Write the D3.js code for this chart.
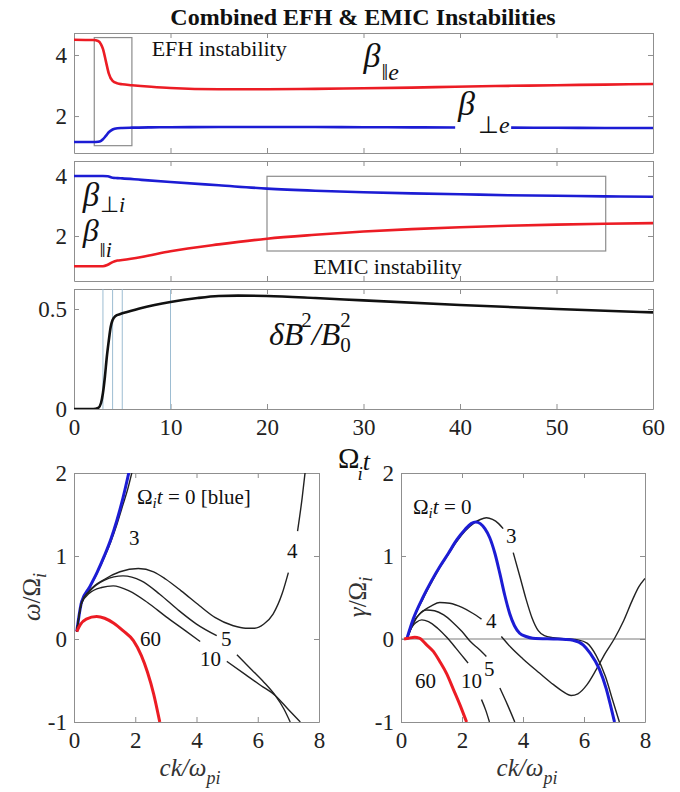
<!DOCTYPE html>
<html>
<head>
<meta charset="utf-8">
<script src="https://cdn.jsdelivr.net/npm/d3@7"></script>
<style>
  body { margin: 0; background: #fff; }
  svg { font-family: "Liberation Serif", "Times New Roman", serif; }
</style>
</head>
<body>
<div id="chart"></div>
<script>
// ---------- top panels: time series (x = Omega_i t) ----------
const tE = [0, 2, 2.5, 2.8, 3, 3.3, 3.6, 4, 4.5, 5, 6, 8, 10, 15, 20, 25, 30, 35, 39.5, 45.3, 50, 55, 60];
const betaParE = [4.5, 4.49, 4.46, 4.35, 4.2, 3.8, 3.4, 3.15, 3.07, 3.04, 3.01, 2.96, 2.92, 2.88, 2.88, 2.89, 2.91, 2.93, 2.96, 2.99, 3.01, 3.03, 3.05];
const betaPerpE = [1.15, 1.15, 1.16, 1.19, 1.24, 1.35, 1.47, 1.56, 1.6, 1.61, 1.62, 1.63, 1.635, 1.64, 1.64, 1.64, 1.635, 1.63, 1.625, 1.62, 1.615, 1.61, 1.61];

const tI = [0, 3, 3.5, 4, 4.5, 5, 7, 10, 15, 20, 25, 30, 35, 40, 45, 50, 55, 60];
const betaPerpI = [4.0, 4.0, 3.99, 3.94, 3.93, 3.92, 3.87, 3.8, 3.69, 3.58, 3.51, 3.46, 3.42, 3.39, 3.36, 3.34, 3.32, 3.31];
const betaParI = [0.99, 0.99, 1.04, 1.13, 1.18, 1.2, 1.3, 1.49, 1.72, 1.91, 2.04, 2.15, 2.23, 2.29, 2.34, 2.38, 2.41, 2.43];

const tB = [0, 2, 2.5, 2.8, 3, 3.2, 3.4, 3.6, 3.8, 4, 4.3, 4.8, 5.5, 7, 10, 12.8, 15, 17, 20, 25, 30, 40, 50, 60];
const dB2 = [0, 0, 0.005, 0.03, 0.08, 0.16, 0.26, 0.34, 0.41, 0.445, 0.465, 0.475, 0.485, 0.505, 0.535, 0.555, 0.565, 0.567, 0.565, 0.555, 0.543, 0.52, 0.5, 0.483];
const markTimes = [3, 4, 5, 10];

// ---------- bottom left: omega / Omega_i vs ck/omega_pi (null = gap for label) ----------
const kW0 = [0.09, 0.25, 0.5, 0.75, 1.0, 1.2, 1.4, 1.6, 1.8];
const w0 = [0.09, 0.45, 0.62, 0.8, 1.01, 1.2, 1.43, 1.7, 2.02];
const kW3 = [0.09, 0.25, 0.5, 0.75, 1.0, 1.2, 1.4, 1.6, 1.75, 1.9];
const w3 = [0.09, 0.44, 0.61, 0.79, 0.99, 1.17, 1.38, 1.62, 1.8, 2.02];
const kW4 = [0.09, 0.25, 0.5, 1.0, 1.5, 2.1, 2.6, 3.0, 3.5, 4.1, 4.6, 5.2, 5.6, 5.9, 6.2, 6.5, 6.8, 7.0, 7.15, 7.3, 7.45, 7.55];
const w4 = [0.09, 0.44, 0.58, 0.72, 0.81, 0.85, 0.81, 0.72, 0.58, 0.4, 0.26, 0.16, 0.13, 0.13, 0.18, 0.3, 0.55, 0.8, null, 1.3, 1.7, 2.02];
const kW5 = [0.09, 0.25, 0.5, 1.0, 1.6, 2.2, 2.8, 3.4, 4.0, 4.66, 5.0, 5.32, 5.8, 6.2, 6.57, 6.85, 7.06];
const w5 = [0.09, 0.44, 0.57, 0.71, 0.76, 0.7, 0.54, 0.35, 0.18, 0.04, null, -0.19, -0.37, -0.52, -0.68, -0.84, -1.0];
const kW10 = [0.09, 0.25, 0.5, 0.9, 1.28, 1.8, 2.4, 3.0, 3.6, 4.12, 4.5, 4.99, 5.6, 6.1, 6.57, 7.0, 7.39];
const w10 = [0.09, 0.43, 0.55, 0.62, 0.64, 0.58, 0.44, 0.27, 0.11, -0.03, null, -0.27, -0.43, -0.56, -0.68, -0.85, -1.0];
const kW60 = [0.09, 0.2, 0.4, 0.74, 1.0, 1.3, 1.6, 1.94, 2.2, 2.4, 2.6, 2.8];
const w60 = [0.09, 0.17, 0.24, 0.27, 0.25, 0.19, 0.1, -0.02, -0.2, -0.4, -0.66, -1.0];

// ---------- bottom right: gamma / Omega_i ----------
const kG0 = [0.19, 0.4, 0.73, 1.0, 1.27, 1.55, 1.82, 2.1, 2.3, 2.45, 2.6, 2.75, 2.91, 3.08, 3.24, 3.4, 3.56, 3.72, 3.89, 4.1, 4.32, 5.0, 5.4, 5.64, 5.97, 6.2, 6.5, 6.73, 6.87, 7.0];
const g0 = [0, 0.24, 0.51, 0.7, 0.87, 1.03, 1.19, 1.32, 1.39, 1.41, 1.39, 1.33, 1.22, 1.03, 0.79, 0.53, 0.31, 0.16, 0.07, 0.03, 0.01, 0, -0.005, -0.015, -0.07, -0.17, -0.36, -0.6, -0.8, -1.0];
const kG3 = [0.19, 0.4, 0.73, 1.0, 1.27, 1.55, 1.82, 2.1, 2.4, 2.6, 2.8, 3.0, 3.2, 3.35, 3.5, 3.68, 3.9, 4.1, 4.3, 4.5, 4.7, 5.0, 5.5, 5.8, 6.1, 6.4, 6.7, 6.95, 7.16];
const g3 = [0, 0.23, 0.49, 0.68, 0.86, 1.02, 1.17, 1.3, 1.4, 1.44, 1.46, 1.44, 1.39, 1.33, null, 1.04, 0.75, 0.48, 0.25, 0.1, 0.04, 0.015, 0, -0.01, -0.05, -0.2, -0.45, -0.75, -1.0];
const kG4 = [0.19, 0.4, 0.7, 1.0, 1.27, 1.6, 2.0, 2.35, 2.64, 3.0, 3.29, 3.6, 4.0, 4.54, 5.0, 5.3, 5.58, 5.8, 6.1, 6.4, 6.7, 6.99, 7.3, 7.6, 7.8, 8.0];
const g4 = [0, 0.2, 0.33, 0.4, 0.44, 0.43, 0.38, 0.31, 0.24, null, 0.03, -0.1, -0.24, -0.41, -0.55, -0.63, -0.68, -0.66, -0.55, -0.37, -0.17, 0, 0.22, 0.48, 0.63, 0.73];
const kG5 = [0.19, 0.4, 0.6, 0.84, 1.1, 1.4, 1.7, 2.0, 2.3, 2.55, 2.8, 3.0, 3.24, 3.5, 3.73];
const g5 = [0, 0.18, 0.3, 0.35, 0.34, 0.29, 0.2, 0.09, -0.04, -0.12, -0.21, null, -0.59, -0.8, -1.0];
const kG10 = [0.19, 0.35, 0.5, 0.68, 0.9, 1.2, 1.5, 1.8, 2.0, 2.2, 2.4, 2.64, 2.78, 2.9];
const g10 = [0, 0.14, 0.2, 0.23, 0.21, 0.13, 0.02, -0.11, -0.2, -0.29, null, -0.73, -0.86, -1.0];
const kG60 = [0.1, 0.25, 0.45, 0.6, 0.84, 1.06, 1.27, 1.5, 1.71, 1.93, 2.15];
const g60 = [0, 0.01, 0.02, 0.01, -0.07, -0.15, -0.27, -0.42, -0.6, -0.79, -1.0];

// tick values
const timeTicks = [0, 10, 20, 30, 40, 50, 60];
const betaTicks = [2, 4];
const dBTicks = [0, 0.5];
const kTicks = [0, 2, 4, 6, 8];
const wTicks = [-1, 0, 1, 2];

const RED = "#ec1c24";
const BLUE = "#1c1cd4";
const FRAME = "#8f8f8f";
const TXT = "#222";
const SERIF = '"Liberation Serif", "Times New Roman", serif';

const svg = d3.select("#chart").append("svg")
  .attr("width", 680).attr("height", 792);
svg.append("rect").attr("width", 680).attr("height", 792).attr("fill", "#fff");

svg.append("text")
  .attr("x", 363).attr("y", 25)
  .attr("text-anchor", "middle")
  .attr("font-size", 24).attr("font-weight", "bold")
  .attr("fill", "#111")
  .text("Combined EFH & EMIC Instabilities");

// plain hyphen for negatives, like the original
const plain = d => String(d);

// frame with inward ticks on all four sides (MATLAB box style)
function frame(x, y, xTicks, yTicks, showX, yFmt) {
  const [x0, x1] = x.range();
  const [yb, yt] = y.range();
  const g = svg.append("g");
  const style = sel => {
    sel.attr("font-family", null).style("font-family", SERIF);
    sel.select(".domain").attr("stroke", FRAME);
    sel.selectAll(".tick line").attr("stroke", FRAME);
    sel.selectAll("text").attr("font-size", 23).attr("fill", TXT);
  };
  g.append("g").attr("transform", `translate(0,${yb})`)
    .call(d3.axisBottom(x).tickValues(xTicks).tickSize(-5).tickSizeOuter(0).tickPadding(10)
      .tickFormat(showX ? plain : () => ""))
    .call(style);
  g.append("g").attr("transform", `translate(0,${yt})`)
    .call(d3.axisTop(x).tickValues(xTicks).tickSize(-5).tickSizeOuter(0).tickFormat(() => ""))
    .call(style);
  g.append("g").attr("transform", `translate(${x0},0)`)
    .call(d3.axisLeft(y).tickValues(yTicks).tickSize(-5).tickSizeOuter(0).tickPadding(7).tickFormat(yFmt))
    .call(style);
  g.append("g").attr("transform", `translate(${x1},0)`)
    .call(d3.axisRight(y).tickValues(yTicks).tickSize(-5).tickSizeOuter(0).tickFormat(() => ""))
    .call(style);
  return g;
}

function clipFor(id, x, y) {
  const [x0, x1] = x.range();
  const [yb, yt] = y.range();
  svg.append("clipPath").attr("id", id).append("rect")
    .attr("x", x0).attr("y", yt).attr("width", x1 - x0).attr("height", yb - yt);
  return svg.append("g").attr("clip-path", `url(#${id})`);
}

function drawLine(g, xs, ys, x, y, color, width) {
  g.append("path")
    .datum(d3.zip(xs, ys))
    .attr("fill", "none")
    .attr("stroke", color)
    .attr("stroke-width", width)
    .attr("stroke-linejoin", "round")
    .attr("d", d3.line()
      .defined(d => d[1] !== null)
      .x(d => x(d[0]))
      .y(d => y(d[1]))
      .curve(d3.curveMonotoneX));
}

// one text element, pieces as tspans (sub/superscripts via dx/dy)
function label(g, x, y, size, parts, anchor) {
  const t = g.append("text").attr("x", x).attr("y", y)
    .attr("font-size", size).attr("fill", "#111")
    .attr("text-anchor", anchor || "start");
  parts.forEach(p => {
    const s = t.append("tspan").text(p.s);
    if (p.i) s.attr("font-style", "italic");
    if (p.fs) s.attr("font-size", p.fs);
    if (p.dy) s.attr("dy", p.dy);
    if (p.dx) s.attr("dx", p.dx);
  });
  return t;
}

// ---------- scales ----------
const xT = d3.scaleLinear().domain([0, 60]).range([74, 653]);
const y1 = d3.scaleLinear().domain([0.79, 4.72]).range([153, 33]);
const y2 = d3.scaleLinear().domain([0.5, 4.5]).range([281, 161]);
const y3 = d3.scaleLinear().domain([0, 0.6]).range([409, 289]);

// ---------- panel 1: electrons ----------
frame(xT, y1, timeTicks, betaTicks, false, plain);
const p1 = clipFor("c1", xT, y1);
p1.append("rect")
  .attr("x", xT(2.1)).attr("y", y1(4.57))
  .attr("width", xT(6.0) - xT(2.1)).attr("height", y1(1.03) - y1(4.57))
  .attr("fill", "none").attr("stroke", "#8c8c8c").attr("stroke-width", 1.2);
drawLine(p1, tE, betaParE, xT, y1, RED, 2.6);
// the perpendicular curve is broken where its label sits
drawLine(p1, tE.filter(t => t <= 39.5), betaPerpE.filter((v, i) => tE[i] <= 39.5), xT, y1, BLUE, 2.6);
drawLine(p1, tE.filter(t => t >= 45.3), betaPerpE.filter((v, i) => tE[i] >= 45.3), xT, y1, BLUE, 2.6);
label(svg, xT(8.05), y1(3.97), 22, [{ s: "EFH instability" }]);
label(svg, xT(30.0), y1(3.62), 34, [{ s: "β", i: true }, { s: "‖", fs: 24, dx: 1, dy: 13 }, { s: "e", i: true, fs: 24 }]);
label(svg, xT(39.8), y1(2.03), 34, [{ s: "β", i: true }, { s: "⊥", fs: 24, dx: 3, dy: 18 }, { s: "e", i: true, fs: 24 }]);

// ---------- panel 2: ions ----------
frame(xT, y2, timeTicks, betaTicks, false, plain);
const p2 = clipFor("c2", xT, y2);
p2.append("rect")
  .attr("x", xT(20)).attr("y", y2(3.99))
  .attr("width", xT(55.1) - xT(20)).attr("height", y2(1.5) - y2(3.99))
  .attr("fill", "none").attr("stroke", "#8c8c8c").attr("stroke-width", 1.2);
drawLine(p2, tI, betaPerpI, xT, y2, BLUE, 2.6);
drawLine(p2, tI, betaParI, xT, y2, RED, 2.6);
label(svg, xT(0.9), y2(3.0), 33, [{ s: "β", i: true }, { s: "⊥", fs: 22, dx: 1, dy: 6 }, { s: "i", i: true, fs: 22 }]);
label(svg, xT(0.9), y2(1.85), 32, [{ s: "β", i: true }, { s: "‖", fs: 22, dx: 1, dy: 16 }, { s: "i", i: true, fs: 22 }]);
label(svg, xT(24.8), y2(0.72), 22, [{ s: "EMIC instability" }]);

// ---------- panel 3: wave energy ----------
frame(xT, y3, timeTicks, dBTicks, true, plain);
const p3 = clipFor("c3", xT, y3);
p3.selectAll("line.mark").data(markTimes).join("line")
  .attr("class", "mark")
  .attr("x1", d => xT(d)).attr("x2", d => xT(d))
  .attr("y1", y3(0)).attr("y2", y3(0.6))
  .attr("stroke", "#9dbdd2").attr("stroke-width", 1);
drawLine(p3, tB, dB2, xT, y3, "#111", 2.6);
label(svg, xT(20.2), y3(0.32), 32, [
  { s: "δB", i: true },
  { s: "2", fs: 21, dx: -2, dy: -18 },
  { s: "/", i: true, dx: 0, dy: 18 },
  { s: "B", i: true },
  { s: "2", fs: 21, dx: 0, dy: -18 },
  { s: "0", fs: 21, dx: -10.5, dy: 25 }
]);

// x label shared by the three top panels
label(svg, 338, 468, 29, [{ s: "Ω" }, { s: "i", i: true, fs: 19, dx: -2, dy: 12 }, { s: "t", i: true, fs: 26, dx: 0, dy: -10 }]);

// ---------- bottom panels ----------
const xL = d3.scaleLinear().domain([0, 8]).range([74, 319]);
const xR = d3.scaleLinear().domain([0, 8]).range([401, 645]);
const yB = d3.scaleLinear().domain([-1, 2]).range([722, 473]);

// left: real frequency
frame(xL, yB, kTicks, wTicks, true, plain);
const pL = clipFor("cL", xL, yB);
drawLine(pL, kW3, w3, xL, yB, "#222", 1.4);
drawLine(pL, kW0, w0, xL, yB, BLUE, 3);
drawLine(pL, kW4, w4, xL, yB, "#222", 1.4);
drawLine(pL, kW5, w5, xL, yB, "#222", 1.4);
drawLine(pL, kW10, w10, xL, yB, "#222", 1.4);
drawLine(pL, kW60, w60, xL, yB, RED, 3);
label(svg, 137, 504, 21, [{ s: "Ω" }, { s: "i", i: true, fs: 15, dy: 4 }, { s: "t", i: true, dy: -4 }, { s: " = 0 [blue]" }]);
label(svg, 129, 545, 21, [{ s: "3" }]);
label(svg, 287, 558, 21, [{ s: "4" }]);
label(svg, 140, 646, 21, [{ s: "60" }]);
label(svg, 221, 646, 21, [{ s: "5" }]);
label(svg, 200, 666, 21, [{ s: "10" }]);

// right: growth rate
frame(xR, yB, kTicks, wTicks, true, plain);
const pR = clipFor("cR", xR, yB);
pR.append("line")
  .attr("x1", xR(0)).attr("x2", xR(8))
  .attr("y1", yB(0)).attr("y2", yB(0))
  .attr("stroke", "#7a7a7a").attr("stroke-width", 1);
drawLine(pR, kG3, g3, xR, yB, "#222", 1.4);
drawLine(pR, kG4, g4, xR, yB, "#222", 1.4);
drawLine(pR, kG5, g5, xR, yB, "#222", 1.4);
drawLine(pR, kG10, g10, xR, yB, "#222", 1.4);
drawLine(pR, kG0, g0, xR, yB, BLUE, 3);
drawLine(pR, kG60, g60, xR, yB, RED, 3);
label(svg, 413, 514, 21, [{ s: "Ω" }, { s: "i", i: true, fs: 15, dy: 4 }, { s: "t", i: true, dy: -4 }, { s: " = 0" }]);
label(svg, 506, 543, 21, [{ s: "3" }]);
label(svg, 486, 628, 21, [{ s: "4" }]);
label(svg, 415, 688, 21, [{ s: "60" }]);
label(svg, 461, 688, 21, [{ s: "10" }]);
label(svg, 484, 676, 21, [{ s: "5" }]);

// axis titles
function axisTitle(attrs, parts) {
  const t = svg.append("text")
    .attr("text-anchor", "middle").attr("font-size", 25).attr("fill", "#333");
  Object.entries(attrs).forEach(([k, v]) => t.attr(k, v));
  parts.forEach(p => {
    const s = t.append("tspan").text(p.s);
    if (p.i) s.attr("font-style", "italic");
    if (p.fs) s.attr("font-size", p.fs);
    if (p.dy) s.attr("dy", p.dy);
  });
}
axisTitle({ transform: "translate(40,597) rotate(-90)" }, [{ s: "ω", i: true }, { s: "/Ω" }, { s: "i", i: true, fs: 18, dy: 6 }]);
axisTitle({ transform: "translate(366,597) rotate(-90)" }, [{ s: "γ", i: true }, { s: "/Ω" }, { s: "i", i: true, fs: 18, dy: 6 }]);
axisTitle({ x: 190, y: 776 }, [{ s: "ck/ω", i: true }, { s: "pi", i: true, fs: 18, dy: 8 }]);
axisTitle({ x: 527, y: 776 }, [{ s: "ck/ω", i: true }, { s: "pi", i: true, fs: 18, dy: 8 }]);
</script>
</body>
</html>
